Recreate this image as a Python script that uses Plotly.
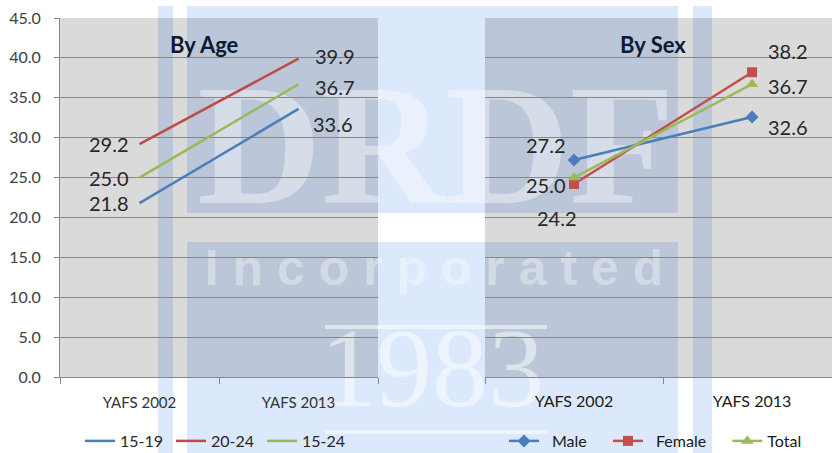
import plotly.graph_objects as go

# ---------------- data ----------------
categories = ["YAFS 2002", "YAFS 2013"]

age_names = ["15-19", "20-24", "15-24"]
age_15_19 = [21.8, 33.6]
age_20_24 = [29.2, 39.9]
age_15_24 = [25.0, 36.7]

sex_names = ["Male", "Female", "Total"]
male = [27.2, 32.6]
female = [24.2, 38.2]
total = [25.0, 36.7]

y_ticks = [0, 5, 10, 15, 20, 25, 30, 35, 40, 45]

# ---------------- styling ----------------
W, H = 832, 453
BLUE, RED, GREEN = "#4a7ebb", "#be4b48", "#98b954"
GRID = "#878787"
PLOT_GRAY = "#dadada"
WM_LIGHT = "#dce8fb"       # watermark over white
WM_DARK = "#bbc6d9"        # watermark over gray plot area
FONT = "Lato"


def fx(px):
    return px / W


def fy(py):
    return 1 - py / H


# plot-area pixel boxes (x0, y0, x1, y1)
left_box = (60, 18, 378, 377)
right_box = (485, 18, 832, 377)

fig = go.Figure()

# ---- watermark text (drawn in bottom subplot 'xy', pixel coordinates) ----
wm_font_serif = "Liberation Serif"
fig.add_trace(go.Scatter(x=[436], y=[160], mode="text", text=["<b>DRDF</b>"],
                         textfont=dict(family=wm_font_serif, size=172, color="rgba(255,255,255,0.4)"),
                         hoverinfo="skip", showlegend=False, xaxis="x", yaxis="y"))
fig.add_trace(go.Scatter(x=[434], y=[272], mode="text",
                         text=["<b>I n c o r p o r a t e d</b>"],
                         textfont=dict(family="Liberation Sans", size=50, color="rgba(255,255,255,0.35)"),
                         hoverinfo="skip", showlegend=False, xaxis="x", yaxis="y"))
fig.add_trace(go.Scatter(x=[432], y=[378], mode="text", text=["1983"],
                         textfont=dict(family=wm_font_serif, size=112, color="rgba(255,255,255,0.5)"),
                         hoverinfo="skip", showlegend=False, xaxis="x", yaxis="y"))

# ---- data traces ----
age_series = [age_15_19, age_20_24, age_15_24]
age_colors = [BLUE, RED, GREEN]
for name, vals, col in zip(age_names, age_series, age_colors):
    fig.add_trace(go.Scatter(x=categories, y=vals, name=name, mode="lines",
                             line=dict(color=col, width=2.5),
                             xaxis="x2", yaxis="y2", legend="legend"))

sex_series = [male, female, total]
sex_colors = ["#4a7ebb", "#c0504d", "#9bbb59"]
sex_symbols = ["diamond", "square", "triangle-up"]
sex_sizes = [10, 10, 11]
# legend spacing padding (layout only) around the series names
sex_pad_before = ["\u2002", "\u2002", ""]
sex_pad_after = ["\u2002\u00a0\u00a0", "\u2002\u00a0\u00a0", ""]
for name, vals, col, sym, sz, pb, pa in zip(sex_names, sex_series, sex_colors, sex_symbols,
                                            sex_sizes, sex_pad_before, sex_pad_after):
    fig.add_trace(go.Scatter(x=categories, y=vals, name=pb + name + pa, mode="lines+markers",
                             line=dict(color=col, width=2.5),
                             marker=dict(symbol=sym, size=sz, color=col),
                             xaxis="x3", yaxis="y3", legend="legend2"))

# ---- data labels ----
LABEL_FONT = dict(family=FONT, size=20, color="#262626")
# (xanchor, xshift, yshift) per point
age_label_pos = [
    [("right", -9, 0), ("left", 12, -15)],   # 15-19
    [("right", -9, 0), ("left", 14, 3)],     # 20-24
    [("right", -9, 0), ("left", 14, -3)],    # 15-24
]
sex_label_pos = [
    [("right", -6, 15), ("left", 14, -10)],  # Male
    [("center", -17, -34), ("left", 14, 21)],  # Female
    [("right", -6, -7), ("left", 14, -2)],   # Total
]
annotations = []
for vals, poss in zip(age_series, age_label_pos):
    for cat, v, (xa, xs, ys) in zip(categories, vals, poss):
        annotations.append(dict(x=cat, y=v, xref="x2", yref="y2", text=f"{v:.1f}",
                                showarrow=False, xanchor=xa, yanchor="middle",
                                xshift=xs, yshift=ys, font=LABEL_FONT))
for vals, poss in zip(sex_series, sex_label_pos):
    for cat, v, (xa, xs, ys) in zip(categories, vals, poss):
        annotations.append(dict(x=cat, y=v, xref="x3", yref="y3", text=f"{v:.1f}",
                                showarrow=False, xanchor=xa, yanchor="middle",
                                xshift=xs, yshift=ys, font=LABEL_FONT))

# panel titles
TITLE_FONT = dict(family=FONT, size=22, color="#0d1a33")
annotations.append(dict(x=fx(204), y=fy(44), xref="paper", yref="paper", text="<b>By Age</b>",
                        showarrow=False, xanchor="center", yanchor="middle", font=TITLE_FONT))
annotations.append(dict(x=fx(653), y=fy(44), xref="paper", yref="paper", text="<b>By Sex</b>",
                        showarrow=False, xanchor="center", yanchor="middle", font=TITLE_FONT))

# ---- background shapes ----
shapes = []


def rect(box, color, opacity=1.0):
    x0, y0, x1, y1 = box
    return dict(type="rect", xref="paper", yref="paper", x0=fx(x0), x1=fx(x1),
                y0=fy(y1), y1=fy(y0), fillcolor=color, line=dict(width=0),
                layer="below", opacity=opacity)


def intersect(a, b):
    x0, y0 = max(a[0], b[0]), max(a[1], b[1])
    x1, y1 = min(a[2], b[2]), min(a[3], b[3])
    if x1 <= x0 or y1 <= y0:
        return None
    return (x0, y0, x1, y1)


# gray plot areas
shapes.append(rect(left_box, PLOT_GRAY))
shapes.append(rect(right_box, PLOT_GRAY))

# watermark blue regions (logo frame + inner panels)
wm_regions = [
    (158, 6, 173, 453),
    (693, 6, 712, 453),
    (187, 6, 678, 213),
    (187, 242, 678, 453),
]
for reg in wm_regions:
    shapes.append(rect(reg, WM_LIGHT))
for reg in wm_regions:
    for pb in (left_box, right_box):
        inter = intersect(reg, pb)
        if inter:
            shapes.append(rect(inter, WM_DARK))

# watermark white lines around "1983"
for yy in (327, 432):
    shapes.append(dict(type="line", xref="paper", yref="paper", x0=fx(325), x1=fx(547),
                       y0=fy(yy), y1=fy(yy), line=dict(color="rgba(255,255,255,0.55)", width=4),
                       layer="below"))

# ---------------- layout ----------------
y_dom = [fy(left_box[3]), fy(left_box[1])]
tick_font = dict(family=FONT, size=16, color="#404040")
xtick_font = dict(family=FONT, size=15, color="#333333")

fig.update_layout(
    template="none",
    width=W, height=H,
    margin=dict(l=0, r=0, t=0, b=0, autoexpand=False),
    paper_bgcolor="white",
    plot_bgcolor="rgba(0,0,0,0)",
    shapes=shapes,
    annotations=annotations,
    xaxis=dict(domain=[0, 1], range=[0, W], visible=False, fixedrange=True, automargin=False),
    yaxis=dict(domain=[0, 1], range=[H, 0], visible=False, fixedrange=True, automargin=False),
    xaxis2=dict(domain=[fx(left_box[0]), fx(left_box[2])], anchor="y2", type="category",
                range=[-0.5, 1.5], showline=True, linecolor=GRID, linewidth=1,
                ticks="outside", tickson="boundaries", ticklen=6, tickcolor=GRID,
                showgrid=False, tickfont=xtick_font, ticklabelstandoff=12, automargin=False),
    yaxis2=dict(domain=y_dom, anchor="x2", range=[0, 45], tickvals=y_ticks,
                tickformat=".1f", showline=True, linecolor=GRID, linewidth=1,
                ticks="outside", ticklen=5, tickcolor=GRID, showgrid=True,
                gridcolor=GRID, gridwidth=1, zeroline=False, tickfont=tick_font,
                ticklabelstandoff=10, automargin=False),
    xaxis3=dict(domain=[fx(right_box[0]), 1], anchor="y3", type="category",
                range=[-0.5, 1.449], showline=True, linecolor=GRID, linewidth=1,
                ticks="outside", tickson="boundaries", ticklen=6, tickcolor=GRID,
                showgrid=False, tickfont=dict(family=FONT, size=16, color="#1a1a1a"),
                ticklabelstandoff=10, automargin=False),
    yaxis3=dict(domain=y_dom, anchor="x3", range=[0, 45], tickvals=y_ticks,
                showticklabels=False, showline=False, ticks="", showgrid=True,
                gridcolor=GRID, gridwidth=1, zeroline=False, automargin=False),
    legend=dict(orientation="h", x=fx(80), y=fy(441), xanchor="left", yanchor="middle",
                bgcolor="rgba(0,0,0,0)", font=dict(family=FONT, size=16, color="#262626"),
                entrywidth=46),
    legend2=dict(orientation="h", x=fx(504), y=fy(441), xanchor="left", yanchor="middle",
                 bgcolor="rgba(0,0,0,0)", font=dict(family=FONT, size=16, color="#1a1a1a")),
    showlegend=True,
)

fig.write_html("out.html", config={"displayModeBar": False},
               post_script="document.body.style.margin='0';")
